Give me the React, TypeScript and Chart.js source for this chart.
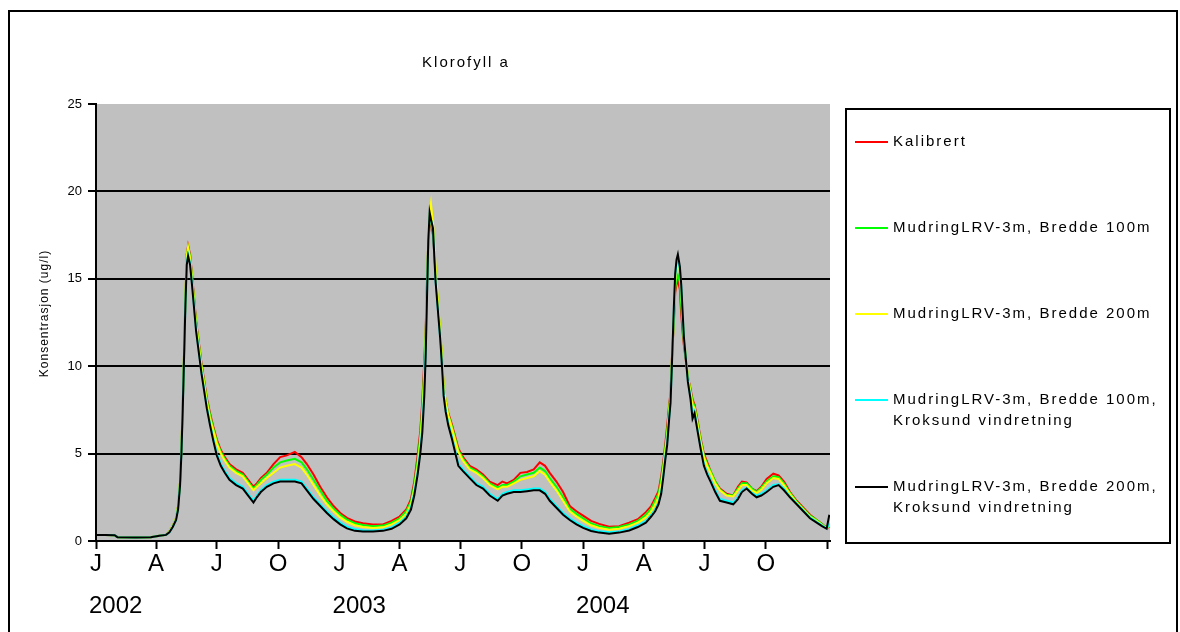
import React, { useEffect, useRef } from 'react';
import { Chart, registerables } from 'chart.js';

Chart.register(...registerables);

// Day number since 1 Jan 2002
const days = [
  0, 14, 28, 32, 60, 82, 95, 105, 110, 115,
  120, 123, 126, 128, 130, 132, 134, 136, 138, 141,
  144, 147, 150, 154, 158, 162, 166, 171, 176, 181,
  187, 193, 200, 210, 220, 228, 236, 241, 247, 256,
  266, 276, 286, 298, 308, 316, 326, 336, 346, 356,
  366, 376, 388, 400, 415, 430, 443, 455, 465, 472,
  477, 482, 486, 489, 492, 494, 496, 498, 500, 502,
  505, 507, 509, 513, 516, 519, 521, 524, 528, 533,
  538, 543, 550, 560, 570, 580, 590, 602, 609, 616,
  626, 636, 646, 656, 665, 673, 680, 690, 700, 710,
  720, 730, 742, 754, 769, 784, 799, 812, 824, 832,
  838, 843, 847, 850, 853, 856, 859, 861, 863, 866,
  868, 870, 872, 875, 877, 879, 881, 884, 887, 891,
  894, 897, 901, 906, 911, 916, 921, 928, 935, 945,
  955, 962, 968, 975, 983, 990, 997, 1005, 1015, 1023,
  1031, 1040, 1050, 1060, 1070, 1080, 1088, 1095, 1099,
];

const kalibrert = [
  0.35, 0.35, 0.33, 0.22, 0.2, 0.22, 0.3, 0.35, 0.55, 0.85,
  1.3, 2.0, 3.4, 5.3, 7.8, 10.8, 13.9, 16.4, 16.9, 16.4,
  15.2, 13.9, 12.6, 11.4, 10.2, 9.2, 8.2, 7.3, 6.5, 5.8,
  5.2, 4.8, 4.4, 4.1, 3.9, 3.5, 3.1, 3.3, 3.6, 3.9,
  4.4, 4.8, 4.9, 5.1, 4.8, 4.4, 3.8, 3.1, 2.5, 2.0,
  1.6, 1.32, 1.12, 1.02, 0.95, 0.95, 1.15, 1.4, 1.8, 2.4,
  3.4, 4.9, 6.3, 8.0, 10.3, 12.0, 14.8, 17.2, 18.0, 18.3,
  17.5, 16.4, 15.2, 13.2, 11.8, 10.2, 8.8, 8.0, 7.3, 6.7,
  6.0, 5.3, 4.8, 4.3, 4.1, 3.8, 3.4, 3.2, 3.4, 3.3,
  3.5, 3.9, 3.95, 4.1, 4.5, 4.3, 3.9, 3.4, 2.8, 2.0,
  1.7, 1.45, 1.15, 0.98, 0.82, 0.85, 1.05, 1.25, 1.65, 2.0,
  2.45, 2.85, 3.7, 4.5, 5.5, 6.6, 7.8, 8.5, 10.4, 12.5,
  14.2, 14.7, 14.9, 14.4, 13.0, 12.0, 11.2, 10.3, 9.4, 8.7,
  8.1, 7.8, 7.0, 5.9, 5.0, 4.5, 4.0, 3.4, 3.0, 2.7,
  2.6, 3.1, 3.4, 3.35, 3.0, 2.85, 3.1, 3.55, 3.85, 3.75,
  3.4, 2.8, 2.3, 1.9, 1.5, 1.2, 0.97, 0.75, 0.8,
];

const bredde100 = [
  0.35, 0.35, 0.33, 0.22, 0.2, 0.22, 0.3, 0.35, 0.55, 0.85,
  1.3, 2.0, 3.4, 5.3, 7.8, 10.8, 13.9, 16.3, 16.8, 16.3,
  15.1, 13.8, 12.5, 11.3, 10.1, 9.1, 8.1, 7.2, 6.4, 5.7,
  5.1, 4.7, 4.3, 4.0, 3.8, 3.4, 3.0, 3.2, 3.5, 3.8,
  4.2, 4.5, 4.6, 4.7, 4.5, 4.1, 3.5, 2.9, 2.3, 1.85,
  1.5, 1.22, 1.02, 0.92, 0.85, 0.88, 1.05, 1.3, 1.7, 2.25,
  3.2, 4.6, 6.0, 7.6, 9.9, 11.8, 14.6, 17.2, 18.2, 18.6,
  17.8, 16.6, 15.3, 13.3, 11.9, 10.2, 8.8, 8.0, 7.2, 6.6,
  5.9, 5.2, 4.7, 4.2, 4.0, 3.7, 3.3, 3.05, 3.2, 3.2,
  3.4, 3.7, 3.8, 3.9, 4.2, 4.0, 3.6, 3.1, 2.5, 1.85,
  1.55, 1.3, 1.0, 0.85, 0.75, 0.8, 0.95, 1.15, 1.5, 1.85,
  2.3, 2.7, 3.5, 4.3, 5.3, 6.3, 7.6, 8.4, 10.3, 12.7,
  14.4, 15.0, 15.2, 14.8, 13.5, 12.4, 11.4, 10.4, 9.4, 8.6,
  8.0, 7.7, 6.9, 5.8, 4.9, 4.4, 4.0, 3.4, 2.95, 2.65,
  2.6, 3.0, 3.3, 3.3, 3.0, 2.8, 3.05, 3.4, 3.7, 3.65,
  3.3, 2.75, 2.25, 1.85, 1.45, 1.2, 0.95, 0.75, 0.85,
];

const bredde200 = [
  0.35, 0.35, 0.33, 0.22, 0.2, 0.22, 0.3, 0.35, 0.55, 0.85,
  1.3, 2.0, 3.4, 5.3, 7.8, 10.8, 13.9, 16.3, 16.8, 16.2,
  15.0, 13.7, 12.4, 11.2, 10.0, 9.0, 8.0, 7.0, 6.3, 5.6,
  5.0, 4.6, 4.2, 3.9, 3.7, 3.3, 2.9, 3.1, 3.3, 3.6,
  3.9, 4.2, 4.3, 4.4, 4.2, 3.8, 3.2, 2.6, 2.1, 1.7,
  1.35, 1.1, 0.9, 0.8, 0.75, 0.78, 0.95, 1.2, 1.55, 2.1,
  3.0, 4.3, 5.7, 7.2, 9.5, 11.5, 14.4, 17.3, 18.7, 19.3,
  18.2, 17.0, 15.6, 13.4, 12.0, 10.3, 8.9, 8.0, 7.2, 6.5,
  5.8, 5.1, 4.6, 4.1, 3.9, 3.6, 3.2, 2.95, 3.1, 3.1,
  3.3, 3.5, 3.6, 3.7, 4.0, 3.8, 3.4, 2.9, 2.3, 1.7,
  1.4, 1.15, 0.9, 0.75, 0.65, 0.7, 0.85, 1.05, 1.35, 1.7,
  2.1, 2.5, 3.2, 4.1, 5.1, 6.0, 7.4, 8.3, 10.2, 12.9,
  14.8, 15.5, 15.8, 15.4, 14.3, 13.0, 11.7, 10.5, 9.4, 8.5,
  7.8, 7.6, 6.8, 5.7, 4.8, 4.3, 3.9, 3.3, 2.9, 2.6,
  2.55, 2.9, 3.2, 3.2, 2.9, 2.75, 2.95, 3.3, 3.6, 3.55,
  3.2, 2.7, 2.2, 1.8, 1.4, 1.15, 0.92, 0.74, 0.9,
];

const bredde100Kroksund = [
  0.35, 0.35, 0.33, 0.22, 0.2, 0.22, 0.3, 0.35, 0.5, 0.8,
  1.2, 1.9, 3.3, 5.1, 7.6, 10.6, 13.6, 15.9, 16.4, 15.9,
  14.7, 13.4, 12.1, 10.9, 9.7, 8.7, 7.7, 6.7, 5.8, 5.0,
  4.4, 4.0, 3.6, 3.3, 3.1, 2.7, 2.3, 2.6, 2.9, 3.2,
  3.4, 3.5, 3.5, 3.5, 3.4, 3.0, 2.5, 2.1, 1.7, 1.35,
  1.05, 0.82, 0.67, 0.62, 0.6, 0.64, 0.78, 1.05, 1.4, 1.95,
  2.8, 4.0, 5.3, 6.6, 8.8, 11.0, 14.1, 17.2, 18.6, 18.4,
  17.8, 16.3, 14.8, 12.9, 11.5, 9.8, 8.4, 7.5, 6.7, 6.0,
  5.2, 4.4, 4.1, 3.7, 3.3, 3.1, 2.7, 2.4, 2.7, 2.8,
  2.9, 2.9, 2.95, 3.0, 3.0, 2.8, 2.4, 2.0, 1.6, 1.3,
  1.05, 0.85, 0.66, 0.56, 0.5, 0.55, 0.68, 0.9, 1.15, 1.5,
  1.8, 2.2, 2.8, 3.7, 4.8, 5.7, 7.1, 8.0, 10.0, 13.2,
  15.1, 15.9, 16.2, 15.5, 14.6, 13.1, 11.7, 10.4, 9.2, 8.2,
  7.1, 7.4, 6.5, 5.4, 4.4, 3.9, 3.5, 2.9, 2.4, 2.3,
  2.2, 2.5, 2.9, 3.05, 2.75, 2.6, 2.7, 2.9, 3.2, 3.25,
  3.0, 2.55, 2.15, 1.75, 1.35, 1.1, 0.9, 0.72, 1.0,
];

const bredde200Kroksund = [
  0.35, 0.35, 0.33, 0.22, 0.2, 0.22, 0.3, 0.35, 0.5, 0.8,
  1.2, 1.8, 3.2, 5.0, 7.5, 10.5, 13.5, 15.8, 16.3, 15.8,
  14.6, 13.3, 12.0, 10.8, 9.6, 8.6, 7.6, 6.6, 5.7, 4.9,
  4.3, 3.9, 3.5, 3.2, 3.0, 2.6, 2.2, 2.5, 2.8, 3.1,
  3.3, 3.4, 3.4, 3.4, 3.3, 2.9, 2.4, 2.0, 1.6, 1.25,
  0.95, 0.72, 0.58, 0.55, 0.55, 0.58, 0.7, 0.95, 1.3, 1.8,
  2.6, 3.8, 5.0, 6.2, 8.3, 10.5, 13.8, 17.2, 18.8, 18.4,
  17.9, 16.3, 14.8, 12.9, 11.5, 9.7, 8.3, 7.4, 6.6, 5.9,
  5.1, 4.3, 4.0, 3.6, 3.2, 3.0, 2.6, 2.3, 2.6, 2.7,
  2.8, 2.8, 2.85, 2.9, 2.9, 2.7, 2.3, 1.9, 1.5, 1.2,
  0.95, 0.75, 0.57, 0.48, 0.42, 0.48, 0.6, 0.8, 1.05, 1.4,
  1.7, 2.1, 2.7, 3.6, 4.6, 5.5, 7.0, 7.9, 10.0, 13.4,
  15.3, 16.1, 16.4, 15.7, 14.7, 13.2, 11.7, 10.4, 9.1, 8.1,
  7.0, 7.3, 6.4, 5.3, 4.3, 3.8, 3.4, 2.8, 2.3, 2.2,
  2.1, 2.4, 2.8, 3.0, 2.7, 2.5, 2.6, 2.8, 3.1, 3.2,
  2.9, 2.5, 2.1, 1.7, 1.3, 1.05, 0.85, 0.7, 1.5,
];

const seriesValues = [kalibrert, bredde100, bredde200, bredde100Kroksund, bredde200Kroksund];
const seriesLabels = [
  ['Kalibrert'],
  ['MudringLRV-3m, Bredde 100m'],
  ['MudringLRV-3m, Bredde 200m'],
  ['MudringLRV-3m, Bredde 100m,', 'Kroksund vindretning'],
  ['MudringLRV-3m, Bredde 200m,', 'Kroksund vindretning'],
];
const seriesColors = ['#ff0000', '#00ff00', '#ffff00', '#00ffff', '#000000'];

const quarterDays = [0, 90, 181, 273, 365, 455, 546, 638, 730, 821, 912, 1004, 1096];
const quarterLabels = ['J', 'A', 'J', 'O', 'J', 'A', 'J', 'O', 'J', 'A', 'J', 'O', ''];
const yearLabels = ['2002', '', '', '', '2003', '', '', '', '2004', '', '', '', ''];
const yTickValues = [0, 5, 10, 15, 20, 25];

const chartTitle = 'Klorofyll a';
const yAxisTitle = 'Konsentrasjon (ug/l)';

const FONT = '"Liberation Sans", Arial, sans-serif';

const decorPlugin = {
  id: 'decor',
  beforeDraw(chart: any) {
    const { ctx, chartArea: a } = chart;
    ctx.save();
    ctx.fillStyle = '#ffffff';
    ctx.fillRect(0, 0, chart.width, chart.height);
    ctx.fillStyle = '#c0c0c0';
    ctx.fillRect(a.left, a.top, a.right - a.left, a.bottom - a.top);
    ctx.restore();
  },
  afterDraw(chart: any) {
    const { ctx, chartArea: a } = chart;
    const xs = chart.scales.x;
    ctx.save();
    // outer frame
    ctx.strokeStyle = '#000';
    ctx.lineWidth = 2;
    ctx.strokeRect(9, 11, 1168, 700);

    // title
    ctx.fillStyle = '#000';
    ctx.textBaseline = 'middle';
    ctx.font = `15px ${FONT}`;
    (ctx as any).letterSpacing = '2px';
    ctx.textAlign = 'center';
    ctx.fillText(chartTitle, 466, 63);

    // y axis title
    ctx.save();
    ctx.translate(45, (a.top + a.bottom) / 2 - 9);
    ctx.rotate(-Math.PI / 2);
    ctx.font = `12px ${FONT}`;
    (ctx as any).letterSpacing = '1px';
    ctx.textAlign = 'center';
    ctx.fillText(yAxisTitle, 0, 0);
    ctx.restore();

    // x labels
    ctx.font = `24px ${FONT}`;
    (ctx as any).letterSpacing = '0px';
    quarterDays.forEach((d, i) => {
      const px = xs.getPixelForValue(d);
      ctx.textAlign = 'center';
      if (quarterLabels[i]) ctx.fillText(quarterLabels[i], px, a.bottom + 23);
      if (yearLabels[i]) {
        ctx.textAlign = 'left';
        ctx.fillText(yearLabels[i], px - 7, a.bottom + 65);
      }
    });

    // legend
    ctx.strokeStyle = '#000';
    ctx.lineWidth = 2;
    ctx.strokeRect(846, 109, 324, 434);
    const itemY = [142, 228, 314, 400, 487];
    ctx.font = `15px ${FONT}`;
    (ctx as any).letterSpacing = '2px';
    ctx.textAlign = 'left';
    seriesLabels.forEach((lines, i) => {
      ctx.strokeStyle = seriesColors[i];
      ctx.lineWidth = 2;
      ctx.beginPath();
      ctx.moveTo(855, itemY[i]);
      ctx.lineTo(888, itemY[i]);
      ctx.stroke();
      ctx.fillStyle = '#000';
      lines.forEach((t, k) => ctx.fillText(t, 893, itemY[i] + k * 21));
    });
    ctx.restore();
  },
};

export default function App() {
  const canvasRef = useRef<HTMLCanvasElement | null>(null);

  useEffect(() => {
    const canvas = canvasRef.current;
    if (!canvas) return;
    const chart = new Chart(canvas, {
      type: 'line',
      data: {
        datasets: seriesValues.map((vals, i) => ({
          label: seriesLabels[i].join(' '),
          data: days.map((d, j) => ({ x: d, y: vals[j] })),
          borderColor: seriesColors[i],
          backgroundColor: seriesColors[i],
          borderWidth: 2,
          pointRadius: 0,
          tension: 0,
          fill: false,
          order: seriesValues.length - 1 - i,
        })),
      },
      options: {
        responsive: false,
        animation: false,
        events: [],
        layout: { padding: { left: 0, top: 104, right: 350, bottom: 0 } },
        plugins: {
          legend: { display: false },
          tooltip: { enabled: false },
          title: { display: false },
        },
        scales: {
          x: {
            type: 'linear',
            min: 0,
            max: 1100,
            afterBuildTicks: (s: any) => {
              s.ticks = quarterDays.map((v) => ({ value: v }));
            },
            afterFit: (s: any) => {
              s.height = 91;
            },
            ticks: { display: false },
            grid: {
              drawOnChartArea: false,
              drawTicks: true,
              tickLength: 8,
              tickColor: '#000',
              tickWidth: 2,
            },
            border: { color: '#000', width: 2 },
          },
          y: {
            type: 'linear',
            min: 0,
            max: 25,
            afterBuildTicks: (s: any) => {
              s.ticks = yTickValues.map((v) => ({ value: v }));
            },
            afterFit: (s: any) => {
              s.width = 96;
            },
            ticks: {
              color: '#000',
              font: { family: FONT, size: 13 },
              padding: 6,
            },
            grid: {
              color: (c: any) =>
                c.tick && (c.tick.value === 0 || c.tick.value === 25) ? 'rgba(0,0,0,0)' : '#000',
              lineWidth: 2,
              tickColor: '#000',
              tickLength: 8,
              tickWidth: 2,
            },
            border: { color: '#000', width: 2 },
          },
        },
      },
      plugins: [decorPlugin],
    });
    return () => chart.destroy();
  }, []);

  return (
    <div style={{ position: 'fixed', left: 0, top: 0, width: 1180, height: 632, background: '#fff' }}>
      <canvas ref={canvasRef} width={1180} height={632} style={{ display: 'block' }} />
    </div>
  );
}
